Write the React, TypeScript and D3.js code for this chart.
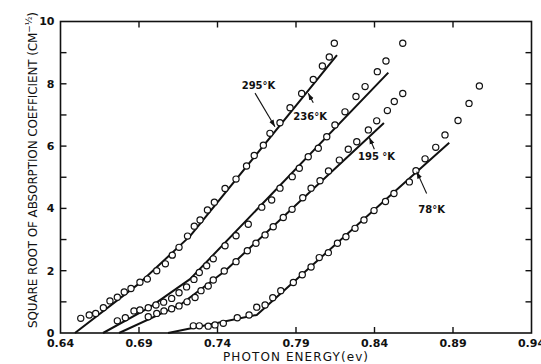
import { useEffect, useRef } from 'react'
import * as d3 from 'd3'

const W = 541, H = 364, M = { top: 21.5, right: 9.5, bottom: 31, left: 60.5 }
const FONT = 'DejaVu Sans, sans-serif'

type Pt = [number, number]

const energyTicks = [0.64, 0.69, 0.74, 0.79, 0.84, 0.89, 0.94]
const rootTicks = [0, 1, 2, 3, 4, 5, 6, 7, 8, 9, 10]
const rootLabels = [0, 2, 4, 6, 8, 10]

// measured points, [photon energy (eV), sqrt(alpha)]
const pts295: Pt[] = [
  [0.6529, 0.47], [0.6583, 0.58], [0.6624, 0.63], [0.6673, 0.81], [0.6715, 1.03],
  [0.6762, 1.15], [0.6806, 1.32], [0.6849, 1.43], [0.6906, 1.63], [0.6953, 1.73],
  [0.7013, 2.00], [0.7068, 2.22], [0.7112, 2.50], [0.7155, 2.75], [0.7209, 3.11],
  [0.7252, 3.43], [0.7289, 3.63], [0.7336, 3.95], [0.7380, 4.20], [0.7448, 4.64],
  [0.7518, 4.94], [0.7585, 5.36], [0.7634, 5.70], [0.7692, 6.03], [0.7734, 6.41],
  [0.7798, 6.75], [0.7862, 7.23], [0.7936, 7.69], [0.8010, 8.14], [0.8068, 8.57],
  [0.8112, 8.86], [0.8144, 9.30],
]
const pts236: Pt[] = [
  [0.6762, 0.39], [0.6813, 0.49], [0.6868, 0.71], [0.6906, 0.74], [0.6959, 0.81],
  [0.7008, 0.90], [0.7057, 0.99], [0.7108, 1.11], [0.7155, 1.29], [0.7203, 1.48],
  [0.7250, 1.72], [0.7284, 1.94], [0.7331, 2.16], [0.7373, 2.38], [0.7448, 2.80],
  [0.7518, 3.12], [0.7596, 3.49], [0.7682, 4.04], [0.7745, 4.27], [0.7798, 4.65],
  [0.7876, 5.02], [0.7921, 5.29], [0.7978, 5.66], [0.8042, 5.93], [0.8096, 6.30],
  [0.8148, 6.68], [0.8212, 7.10], [0.8282, 7.59], [0.8340, 7.91], [0.8418, 8.39],
  [0.8473, 8.73], [0.8580, 9.30],
]
const pts195: Pt[] = [
  [0.6959, 0.52], [0.7013, 0.63], [0.7059, 0.71], [0.7108, 0.78], [0.7155, 0.87],
  [0.7206, 1.00], [0.7257, 1.14], [0.7295, 1.36], [0.7341, 1.51], [0.7373, 1.70],
  [0.7443, 1.99], [0.7518, 2.29], [0.7590, 2.64], [0.7645, 2.88], [0.7703, 3.15],
  [0.7755, 3.41], [0.7819, 3.71], [0.7875, 3.97], [0.7943, 4.34], [0.7996, 4.65],
  [0.8053, 4.89], [0.8107, 5.20], [0.8176, 5.55], [0.8233, 5.90], [0.8287, 6.14],
  [0.8361, 6.52], [0.8414, 6.81], [0.8482, 7.14], [0.8526, 7.43], [0.8580, 7.69],
]
const pts78: Pt[] = [
  [0.7246, 0.23], [0.7284, 0.23], [0.7341, 0.22], [0.7384, 0.26], [0.7437, 0.31],
  [0.7526, 0.49], [0.7601, 0.58], [0.7650, 0.83], [0.7703, 0.90], [0.7752, 1.13],
  [0.7803, 1.36], [0.7883, 1.62], [0.7940, 1.87], [0.7996, 2.12], [0.8048, 2.42],
  [0.8106, 2.58], [0.8164, 2.88], [0.8218, 3.09], [0.8276, 3.36], [0.8333, 3.63],
  [0.8397, 3.93], [0.8470, 4.22], [0.8524, 4.48], [0.8622, 4.85], [0.8664, 5.21],
  [0.8722, 5.59], [0.8790, 5.96], [0.8849, 6.36], [0.8932, 6.82], [0.9002, 7.37],
  [0.9068, 7.93],
]

// hand-drawn fitted lines
const fit295: Pt[] = [[0.6492, 0], [0.6906, 1.61], [0.7225, 3.11], [0.8161, 8.92]]
const fit236: Pt[] = [[0.6671, 0], [0.6970, 0.83], [0.7225, 1.73], [0.8488, 8.36]]
const fit195: Pt[] = [[0.6773, 0], [0.7161, 0.90], [0.7448, 1.99], [0.8460, 6.74]]
const fit78: Pt[] = [[0.7085, 0], [0.7650, 0.58], [0.8876, 6.11]]

const curveLabels = ['295°K', '236°K', '195 °K', '78°K']
// label anchor, arrow tail, arrow tip (data units)
const labelAt: Pt[] = [[0.7554, 7.82], [0.7883, 6.85], [0.8295, 5.55], [0.8679, 3.85]]
const arrowFrom: Pt[] = [[0.7639, 7.70], [0.8010, 7.39], [0.8399, 5.90], [0.8732, 4.48]]
const arrowTo: Pt[] = [[0.7766, 6.62], [0.7978, 7.70], [0.8367, 6.28], [0.8669, 5.18]]

export default function App() {
  const svgRef = useRef<SVGSVGElement>(null)

  useEffect(() => {
    const svg = d3.select(svgRef.current!)
    svg.selectAll('*').remove()

    const iw = W - M.left - M.right
    const ih = H - M.top - M.bottom
    const x = d3.scaleLinear().domain([0.64, 0.94]).range([0, iw])
    const y = d3.scaleLinear().domain([0, 10]).range([ih, 0])

    svg.append('defs').append('marker')
      .attr('id', 'head').attr('viewBox', '0 0 10 10')
      .attr('refX', 10).attr('refY', 5)
      .attr('markerWidth', 7).attr('markerHeight', 7)
      .attr('markerUnits', 'userSpaceOnUse')
      .attr('orient', 'auto')
      .append('path').attr('d', 'M0,1.5 L10,5 L0,8.5 Z').attr('fill', '#111')

    const g = svg.append('g').attr('transform', `translate(${M.left},${M.top})`)

    // frame
    g.append('rect').attr('width', iw).attr('height', ih)
      .attr('fill', 'none').attr('stroke', '#111').attr('stroke-width', 1.6)

    // inward ticks on all four sides
    const tl = 6
    energyTicks.slice(1, -1).forEach(t => {
      g.append('line').attr('x1', x(t)).attr('x2', x(t)).attr('y1', ih).attr('y2', ih - tl)
        .attr('stroke', '#111').attr('stroke-width', 1.4)
      g.append('line').attr('x1', x(t)).attr('x2', x(t)).attr('y1', 0).attr('y2', tl)
        .attr('stroke', '#111').attr('stroke-width', 1.4)
    })
    rootTicks.slice(1, -1).forEach(t => {
      g.append('line').attr('x1', 0).attr('x2', tl).attr('y1', y(t)).attr('y2', y(t))
        .attr('stroke', '#111').attr('stroke-width', 1.4)
      g.append('line').attr('x1', iw).attr('x2', iw - tl).attr('y1', y(t)).attr('y2', y(t))
        .attr('stroke', '#111').attr('stroke-width', 1.4)
    })

    // tick labels
    energyTicks.forEach(t => {
      g.append('text').attr('x', x(t)).attr('y', ih + 14).attr('text-anchor', 'middle')
        .attr('font-family', FONT).attr('font-weight', 'bold').attr('font-size', 11)
        .attr('fill', '#111').text(t.toFixed(2))
    })
    rootLabels.forEach(t => {
      g.append('text').attr('x', -6).attr('y', y(t)).attr('dy', '0.36em').attr('text-anchor', 'end')
        .attr('font-family', FONT).attr('font-weight', 'bold').attr('font-size', 11)
        .attr('fill', '#111').text(String(t))
    })

    // axis titles
    svg.append('text').attr('x', 223).attr('y', 361)
      .attr('font-family', FONT).attr('font-size', 12).attr('fill', '#111')
      .attr('textLength', 145).attr('lengthAdjust', 'spacing')
      .text('PHOTON ENERGY(ev)')

    const yt = svg.append('text').attr('transform', 'translate(37,328) rotate(-90)')
      .attr('font-family', FONT).attr('font-size', 12).attr('fill', '#111')
      .attr('textLength', 316).attr('lengthAdjust', 'spacing')
    yt.append('tspan').text('SQUARE ROOT OF ABSORPTION COEFFICIENT (CM')
    yt.append('tspan').attr('dy', -5).attr('font-size', 9).text('−½')
    yt.append('tspan').attr('dy', 5).text(')')

    // fitted lines
    const line = d3.line<Pt>().x(d => x(d[0])).y(d => y(d[1]))
    ;[fit295, fit236, fit195, fit78].forEach(f => {
      g.append('path').datum(f).attr('d', line)
        .attr('fill', 'none').attr('stroke', '#111').attr('stroke-width', 2)
        .attr('stroke-linejoin', 'round')
    })

    // measured points
    ;[pts295, pts236, pts195, pts78].forEach(ps => {
      g.append('g').selectAll('circle').data(ps).join('circle')
        .attr('cx', d => x(d[0])).attr('cy', d => y(d[1])).attr('r', 3.1)
        .attr('fill', '#fff').attr('stroke', '#111').attr('stroke-width', 1.2)
    })

    // curve labels + arrows
    curveLabels.forEach((lab, i) => {
      g.append('line')
        .attr('x1', x(arrowFrom[i][0])).attr('y1', y(arrowFrom[i][1]))
        .attr('x2', x(arrowTo[i][0])).attr('y2', y(arrowTo[i][1]))
        .attr('stroke', '#111').attr('stroke-width', 1.1)
        .attr('marker-end', 'url(#head)')
      g.append('text').attr('x', x(labelAt[i][0])).attr('y', y(labelAt[i][1]))
        .attr('font-family', FONT).attr('font-weight', 'bold').attr('font-size', 10)
        .attr('fill', '#111').text(lab)
    })
  }, [])

  return (
    <svg ref={svgRef} width={W} height={H} viewBox={`0 0 ${W} ${H}`}
      style={{ position: 'absolute', left: 0, top: 0, background: '#fff' }} />
  )
}
